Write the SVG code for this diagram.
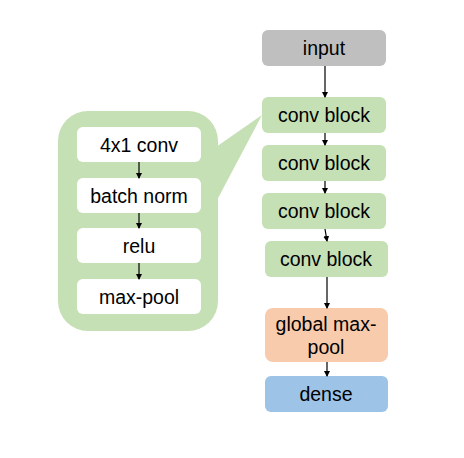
<svg xmlns="http://www.w3.org/2000/svg" width="464" height="458" viewBox="0 0 464 458">
<defs>
<marker id="ah" markerWidth="6" markerHeight="6" refX="5" refY="3" orient="auto" markerUnits="userSpaceOnUse">
<path d="M0,0 L6,3 L0,6 z" fill="#000"/>
</marker>
<style>
text{font-family:"Liberation Sans",Arial,sans-serif;font-size:19.5px;fill:#000;text-anchor:middle;dominant-baseline:central}
.g{fill:#C5E0B4}
.w{fill:#FFFFFF}
.c{stroke:#000;stroke-width:1.2;fill:none;marker-end:url(#ah)}
</style>
</defs>
<rect width="464" height="458" fill="#fff"/>
<g id="callout">
<rect class="g" x="58" y="111" width="160" height="220" rx="30" ry="30"/>
<polygon class="g" points="216,147 262,115 216,202"/>
</g>
<g id="conv4x1"><rect class="w" x="77" y="127" width="124" height="35" rx="6"/><text x="139" y="145">4x1 conv</text></g>
<g id="batchnorm"><rect class="w" x="77" y="178" width="124" height="35" rx="6"/><text x="139" y="196">batch norm</text></g>
<g id="relu"><rect class="w" x="77" y="228" width="124" height="35" rx="6"/><text x="139" y="246">relu</text></g>
<g id="maxpool"><rect class="w" x="77" y="279" width="124" height="35" rx="6"/><text x="139" y="297">max-pool</text></g>
<g id="input"><rect x="262" y="30" width="124" height="36" rx="6" fill="#BFBFBF"/><text x="324" y="48">input</text></g>
<g id="conv1"><rect class="g" x="262" y="97" width="124" height="36" rx="6"/><text x="324" y="115">conv block</text></g>
<g id="conv2"><rect class="g" x="262" y="145" width="124" height="36" rx="6"/><text x="324" y="163">conv block</text></g>
<g id="conv3"><rect class="g" x="262" y="193" width="124" height="36" rx="6"/><text x="324" y="211">conv block</text></g>
<g id="conv4"><rect class="g" x="265" y="241" width="123" height="36" rx="6"/><text x="326" y="259">conv block</text></g>
<g id="gmp"><rect x="265" y="308" width="123" height="54" rx="8" fill="#F8CBAD"/><text x="326" y="324">global max-</text><text x="326" y="347">pool</text></g>
<g id="dense"><rect x="265" y="376" width="123" height="36" rx="6" fill="#9DC3E6"/><text x="326" y="394">dense</text></g>
<g id="connectors">
<line class="c" x1="139" y1="162" x2="139" y2="178"/>
<line class="c" x1="139" y1="213" x2="139" y2="228"/>
<line class="c" x1="139" y1="263" x2="139" y2="279"/>
<line class="c" x1="325" y1="66" x2="325" y2="97"/>
<line class="c" x1="325" y1="133" x2="325" y2="145"/>
<line class="c" x1="325" y1="181" x2="325" y2="193"/>
<line class="c" x1="325" y1="229" x2="327" y2="241"/>
<line class="c" x1="327" y1="277" x2="327" y2="308"/>
<line class="c" x1="327" y1="362" x2="327" y2="376"/>
</g>
</svg>
